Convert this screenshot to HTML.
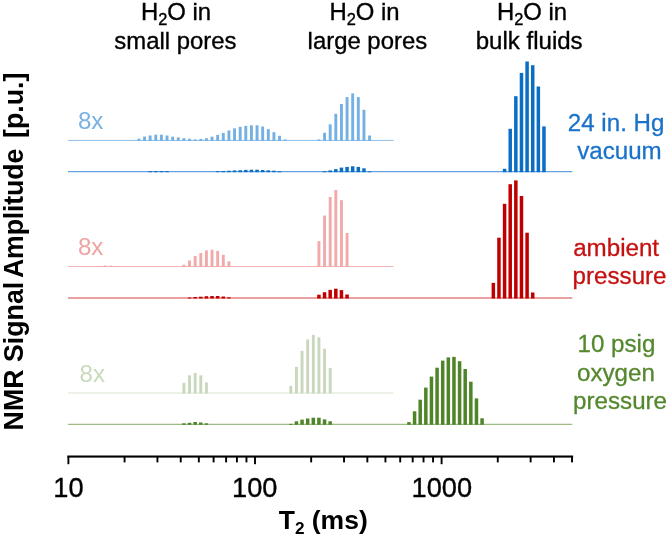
<!DOCTYPE html>
<html><head><meta charset="utf-8"><title>NMR T2 distributions</title>
<style>html,body{margin:0;padding:0;background:#fff}body{width:668px;height:537px;overflow:hidden}</style>
</head><body>
<svg width="668" height="537" viewBox="0 0 668 537" style="display:block;will-change:transform">
<rect width="668" height="537" fill="#fff"/>
<g fill="#74b0e3">
<rect x="68" y="139.90" width="325.7" height="1" fill="#8dbfe9"/>
<rect x="137.45" y="138.70" width="2.9" height="2.20"/>
<rect x="143.08" y="136.60" width="2.9" height="4.30"/>
<rect x="148.70" y="135.50" width="2.9" height="5.40"/>
<rect x="154.33" y="134.70" width="2.9" height="6.20"/>
<rect x="159.95" y="134.70" width="2.9" height="6.20"/>
<rect x="165.58" y="135.50" width="2.9" height="5.40"/>
<rect x="171.21" y="136.70" width="2.9" height="4.20"/>
<rect x="176.83" y="137.40" width="2.9" height="3.50"/>
<rect x="182.46" y="138.20" width="2.9" height="2.70"/>
<rect x="188.08" y="138.80" width="2.9" height="2.10"/>
<rect x="193.71" y="139.40" width="2.9" height="1.50"/>
<rect x="199.34" y="138.90" width="2.9" height="2.00"/>
<rect x="204.96" y="138.20" width="2.9" height="2.70"/>
<rect x="210.59" y="136.70" width="2.9" height="4.20"/>
<rect x="216.21" y="134.90" width="2.9" height="6.00"/>
<rect x="221.84" y="132.90" width="2.9" height="8.00"/>
<rect x="227.47" y="130.40" width="2.9" height="10.50"/>
<rect x="233.09" y="128.40" width="2.9" height="12.50"/>
<rect x="238.72" y="126.80" width="2.9" height="14.10"/>
<rect x="244.34" y="125.90" width="2.9" height="15.00"/>
<rect x="249.97" y="125.30" width="2.9" height="15.60"/>
<rect x="255.60" y="125.30" width="2.9" height="15.60"/>
<rect x="261.22" y="126.50" width="2.9" height="14.40"/>
<rect x="266.85" y="129.20" width="2.9" height="11.70"/>
<rect x="272.47" y="132.20" width="2.9" height="8.70"/>
<rect x="278.10" y="135.80" width="2.9" height="5.10"/>
<rect x="283.73" y="139.40" width="2.9" height="1.50"/>
<rect x="317.48" y="139.50" width="2.9" height="1.40"/>
<rect x="323.11" y="132.80" width="2.9" height="8.10"/>
<rect x="328.73" y="124.40" width="2.9" height="16.50"/>
<rect x="334.36" y="113.80" width="2.9" height="27.10"/>
<rect x="339.99" y="104.00" width="2.9" height="36.90"/>
<rect x="345.61" y="97.10" width="2.9" height="43.80"/>
<rect x="351.24" y="93.40" width="2.9" height="47.50"/>
<rect x="356.86" y="97.10" width="2.9" height="43.80"/>
<rect x="362.49" y="109.80" width="2.9" height="31.10"/>
<rect x="368.12" y="135.50" width="2.9" height="5.40"/>
</g>
<g fill="#0a6ec4">
<rect x="68" y="171.20" width="504.3" height="1" fill="#3f8ad6"/>
<rect x="148.40" y="171.10" width="3.5" height="1.10"/>
<rect x="154.03" y="171.00" width="3.5" height="1.20"/>
<rect x="159.65" y="171.00" width="3.5" height="1.20"/>
<rect x="165.28" y="171.10" width="3.5" height="1.10"/>
<rect x="215.91" y="171.20" width="3.5" height="1.00"/>
<rect x="221.54" y="171.00" width="3.5" height="1.20"/>
<rect x="227.17" y="170.70" width="3.5" height="1.50"/>
<rect x="232.79" y="170.40" width="3.5" height="1.80"/>
<rect x="238.42" y="170.20" width="3.5" height="2.00"/>
<rect x="244.04" y="169.90" width="3.5" height="2.30"/>
<rect x="249.67" y="169.70" width="3.5" height="2.50"/>
<rect x="255.30" y="169.70" width="3.5" height="2.50"/>
<rect x="260.92" y="170.00" width="3.5" height="2.20"/>
<rect x="266.55" y="170.30" width="3.5" height="1.90"/>
<rect x="272.17" y="170.70" width="3.5" height="1.50"/>
<rect x="277.80" y="171.10" width="3.5" height="1.10"/>
<rect x="322.81" y="171.20" width="3.5" height="1.00"/>
<rect x="328.43" y="170.40" width="3.5" height="1.80"/>
<rect x="334.06" y="169.10" width="3.5" height="3.10"/>
<rect x="339.69" y="167.60" width="3.5" height="4.60"/>
<rect x="345.31" y="166.90" width="3.5" height="5.30"/>
<rect x="350.94" y="166.30" width="3.5" height="5.90"/>
<rect x="356.56" y="166.90" width="3.5" height="5.30"/>
<rect x="362.19" y="168.30" width="3.5" height="3.90"/>
<rect x="367.82" y="171.30" width="3.5" height="0.90"/>
<rect x="502.84" y="168.80" width="3.5" height="3.40"/>
<rect x="508.47" y="128.80" width="3.5" height="43.40"/>
<rect x="514.09" y="96.20" width="3.5" height="76.00"/>
<rect x="519.72" y="72.90" width="3.5" height="99.30"/>
<rect x="525.34" y="61.50" width="3.5" height="110.70"/>
<rect x="530.97" y="65.20" width="3.5" height="107.00"/>
<rect x="536.60" y="86.50" width="3.5" height="85.70"/>
<rect x="542.22" y="126.40" width="3.5" height="45.80"/>
</g>
<g fill="#f1a9a9">
<rect x="68" y="266.00" width="325.7" height="1" fill="#f2b4b4"/>
<rect x="98.07" y="266.00" width="2.9" height="1.00"/>
<rect x="103.69" y="265.50" width="2.9" height="1.50"/>
<rect x="109.32" y="265.70" width="2.9" height="1.30"/>
<rect x="114.95" y="266.10" width="2.9" height="0.90"/>
<rect x="182.46" y="264.70" width="2.9" height="2.30"/>
<rect x="188.08" y="260.50" width="2.9" height="6.50"/>
<rect x="193.71" y="256.00" width="2.9" height="11.00"/>
<rect x="199.34" y="253.00" width="2.9" height="14.00"/>
<rect x="204.96" y="250.40" width="2.9" height="16.60"/>
<rect x="210.59" y="249.70" width="2.9" height="17.30"/>
<rect x="216.21" y="250.90" width="2.9" height="16.10"/>
<rect x="221.84" y="254.80" width="2.9" height="12.20"/>
<rect x="227.47" y="261.40" width="2.9" height="5.60"/>
<rect x="317.48" y="241.20" width="2.9" height="25.80"/>
<rect x="323.11" y="215.60" width="2.9" height="51.40"/>
<rect x="328.73" y="197.00" width="2.9" height="70.00"/>
<rect x="334.36" y="190.00" width="2.9" height="77.00"/>
<rect x="339.99" y="200.20" width="2.9" height="66.80"/>
<rect x="345.61" y="233.00" width="2.9" height="34.00"/>
</g>
<g fill="#c00000">
<rect x="68" y="297.50" width="504.3" height="1" fill="#d84444"/>
<rect x="187.78" y="297.50" width="3.5" height="1.00"/>
<rect x="193.41" y="297.00" width="3.5" height="1.50"/>
<rect x="199.04" y="296.70" width="3.5" height="1.80"/>
<rect x="204.66" y="296.20" width="3.5" height="2.30"/>
<rect x="210.29" y="296.00" width="3.5" height="2.50"/>
<rect x="215.91" y="296.00" width="3.5" height="2.50"/>
<rect x="221.54" y="296.50" width="3.5" height="2.00"/>
<rect x="227.17" y="297.30" width="3.5" height="1.20"/>
<rect x="317.18" y="294.70" width="3.5" height="3.80"/>
<rect x="322.81" y="292.20" width="3.5" height="6.30"/>
<rect x="328.43" y="289.90" width="3.5" height="8.60"/>
<rect x="334.06" y="288.70" width="3.5" height="9.80"/>
<rect x="339.69" y="290.10" width="3.5" height="8.40"/>
<rect x="345.31" y="294.50" width="3.5" height="4.00"/>
<rect x="491.59" y="282.90" width="3.5" height="15.60"/>
<rect x="497.21" y="237.70" width="3.5" height="60.80"/>
<rect x="502.84" y="203.80" width="3.5" height="94.70"/>
<rect x="508.47" y="184.20" width="3.5" height="114.30"/>
<rect x="514.09" y="180.40" width="3.5" height="118.10"/>
<rect x="519.72" y="196.00" width="3.5" height="102.50"/>
<rect x="525.34" y="232.70" width="3.5" height="65.80"/>
<rect x="530.97" y="292.50" width="3.5" height="6.00"/>
</g>
<g fill="#c9d8bd">
<rect x="68" y="392.50" width="325.7" height="1" fill="#dbe5d3"/>
<rect x="182.46" y="382.90" width="2.9" height="10.60"/>
<rect x="188.08" y="375.30" width="2.9" height="18.20"/>
<rect x="193.71" y="373.00" width="2.9" height="20.50"/>
<rect x="199.34" y="375.30" width="2.9" height="18.20"/>
<rect x="204.96" y="382.40" width="2.9" height="11.10"/>
<rect x="289.35" y="385.90" width="2.9" height="7.60"/>
<rect x="294.98" y="366.90" width="2.9" height="26.60"/>
<rect x="300.60" y="350.80" width="2.9" height="42.70"/>
<rect x="306.23" y="339.50" width="2.9" height="54.00"/>
<rect x="311.86" y="334.80" width="2.9" height="58.70"/>
<rect x="317.48" y="337.30" width="2.9" height="56.20"/>
<rect x="323.11" y="348.70" width="2.9" height="44.80"/>
<rect x="328.73" y="368.00" width="2.9" height="25.50"/>
</g>
<g fill="#4f8428">
<rect x="68" y="423.80" width="504.3" height="1" fill="#86ac69"/>
<rect x="182.16" y="423.30" width="3.5" height="1.50"/>
<rect x="187.78" y="422.80" width="3.5" height="2.00"/>
<rect x="193.41" y="422.00" width="3.5" height="2.80"/>
<rect x="199.04" y="422.50" width="3.5" height="2.30"/>
<rect x="204.66" y="423.30" width="3.5" height="1.50"/>
<rect x="289.05" y="423.90" width="3.5" height="0.90"/>
<rect x="294.68" y="421.30" width="3.5" height="3.50"/>
<rect x="300.30" y="419.60" width="3.5" height="5.20"/>
<rect x="305.93" y="418.50" width="3.5" height="6.30"/>
<rect x="311.56" y="417.70" width="3.5" height="7.10"/>
<rect x="317.18" y="417.70" width="3.5" height="7.10"/>
<rect x="322.81" y="419.40" width="3.5" height="5.40"/>
<rect x="328.43" y="421.30" width="3.5" height="3.50"/>
<rect x="407.20" y="422.10" width="3.5" height="2.70"/>
<rect x="412.82" y="411.30" width="3.5" height="13.50"/>
<rect x="418.45" y="399.70" width="3.5" height="25.10"/>
<rect x="424.08" y="387.60" width="3.5" height="37.20"/>
<rect x="429.70" y="376.60" width="3.5" height="48.20"/>
<rect x="435.33" y="367.70" width="3.5" height="57.10"/>
<rect x="440.95" y="360.60" width="3.5" height="64.20"/>
<rect x="446.58" y="357.40" width="3.5" height="67.40"/>
<rect x="452.21" y="356.90" width="3.5" height="67.90"/>
<rect x="457.83" y="361.20" width="3.5" height="63.60"/>
<rect x="463.46" y="369.00" width="3.5" height="55.80"/>
<rect x="469.08" y="381.70" width="3.5" height="43.10"/>
<rect x="474.71" y="398.40" width="3.5" height="26.40"/>
<rect x="480.34" y="418.30" width="3.5" height="6.50"/>
</g>
<g fill="#000">
<rect x="67.30" y="455.50" width="505.83" height="2.1"/>
<rect x="67.45" y="456.50" width="1.9" height="7.70"/>
<rect x="123.62" y="456.50" width="1.9" height="5.90"/>
<rect x="156.48" y="456.50" width="1.9" height="5.90"/>
<rect x="179.79" y="456.50" width="1.9" height="5.90"/>
<rect x="197.88" y="456.50" width="1.9" height="5.90"/>
<rect x="212.65" y="456.50" width="1.9" height="5.90"/>
<rect x="225.15" y="456.50" width="1.9" height="5.90"/>
<rect x="235.97" y="456.50" width="1.9" height="5.90"/>
<rect x="245.51" y="456.50" width="1.9" height="5.90"/>
<rect x="254.05" y="456.50" width="1.9" height="7.70"/>
<rect x="310.22" y="456.50" width="1.9" height="5.90"/>
<rect x="343.08" y="456.50" width="1.9" height="5.90"/>
<rect x="366.39" y="456.50" width="1.9" height="5.90"/>
<rect x="384.48" y="456.50" width="1.9" height="5.90"/>
<rect x="399.25" y="456.50" width="1.9" height="5.90"/>
<rect x="411.75" y="456.50" width="1.9" height="5.90"/>
<rect x="422.57" y="456.50" width="1.9" height="5.90"/>
<rect x="432.11" y="456.50" width="1.9" height="5.90"/>
<rect x="440.65" y="456.50" width="1.9" height="7.70"/>
<rect x="496.82" y="456.50" width="1.9" height="5.90"/>
<rect x="529.68" y="456.50" width="1.9" height="5.90"/>
<rect x="552.99" y="456.50" width="1.9" height="5.90"/>
<rect x="571.08" y="456.50" width="1.9" height="5.90"/>
</g>
<g font-family="Liberation Sans, Arial, sans-serif" font-size="27.2" fill="#000" stroke="#000" stroke-width="0.35" text-anchor="middle">
<text x="68.4" y="496.9">10</text>
<text x="254.8" y="496.9">100</text>
<text x="441.8" y="496.9">1000</text>
</g>
<text font-family="Liberation Sans, Arial, sans-serif" font-size="26.5" font-weight="bold" fill="#000" x="278.7" y="528.7">T<tspan font-size="17.2" dy="5.7">2</tspan><tspan dy="-5.7"> (ms)</tspan></text>
<text font-family="Liberation Sans, Arial, sans-serif" font-size="26.76" font-weight="bold" fill="#000" transform="translate(22.8,430.4) rotate(-90)">NMR Signal<tspan dx="-2.6" letter-spacing="-0.17"> Amplitude</tspan><tspan dx="3.5"> [p.u.]</tspan></text>
<g font-family="Liberation Sans, Arial, sans-serif" font-size="23.9" fill="#000" stroke="#000" stroke-width="0.35">
<text x="140.9" y="19.8">H<tspan font-size="16.4" dy="5.2">2</tspan><tspan dy="-5.2">O in</tspan></text>
<text x="114.3" y="49.2">small pores</text>
<text x="329.4" y="19.8">H<tspan font-size="16.4" dy="5.2">2</tspan><tspan dy="-5.2">O in</tspan></text>
<text x="307.6" y="49.2">large pores</text>
<text x="496.9" y="19.8">H<tspan font-size="16.4" dy="5.2">2</tspan><tspan dy="-5.2">O in</tspan></text>
<text x="475.7" y="49.2" font-size="24.05">bulk fluids</text>
</g>
<g font-family="Liberation Sans, Arial, sans-serif" font-size="24.15">
<text fill="#1a72c9" stroke="#1a72c9" stroke-width="0.3" x="567.8" y="130.7">24 in. Hg</text>
<text fill="#1a72c9" stroke="#1a72c9" stroke-width="0.3" x="577.2" y="159.3">vacuum</text>
<text fill="#c61010" stroke="#c61010" stroke-width="0.3" x="573.2" y="255.7">ambient</text>
<text fill="#c61010" stroke="#c61010" stroke-width="0.3" x="572.6" y="284.3">pressure</text>
<text fill="#55882e" stroke="#55882e" stroke-width="0.3" x="577.5" y="351.7">10 psig</text>
<text fill="#55882e" stroke="#55882e" stroke-width="0.3" x="577" y="380.8">oxygen</text>
<text fill="#55882e" stroke="#55882e" stroke-width="0.3" x="573.1" y="409.3">pressure</text>
<text fill="#78b1e3" x="77.9" y="129.4">8x</text>
<text fill="#f0a3a3" x="77.9" y="255">8x</text>
<text fill="#c8dabc" x="79.6" y="382">8x</text>
</g>
</svg>
</body></html>
